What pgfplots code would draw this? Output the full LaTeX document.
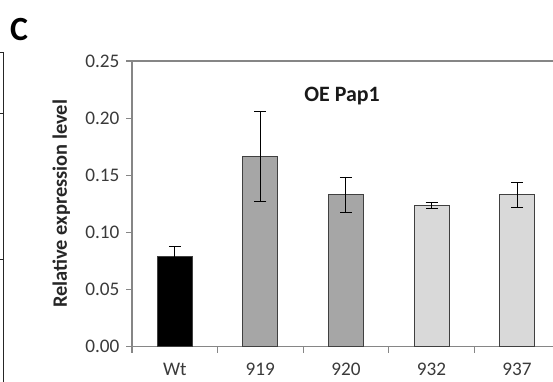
\documentclass[border=0pt]{standalone}
\usepackage{pgfplots}
\pgfplotsset{compat=1.18}
\usepackage{fontspec}
\setmainfont{Carlito}
\definecolor{axgray}{HTML}{868686}
\definecolor{txtgray}{HTML}{3A3A3A}
\definecolor{edgegray}{HTML}{404040}
\definecolor{midgray}{HTML}{A6A6A6}
\definecolor{lightgray}{HTML}{D9D9D9}
\begin{document}
\begin{tikzpicture}[x=1bp,y=1bp]
\path[use as bounding box] (0,0) rectangle (553,381);
% edge of neighbouring panel
\draw[black!85, line width=1pt] (0,329) -- (3,329) -- (3,-1);
\draw[black!85, line width=1pt] (0,268) -- (3,268);
\draw[black!85, line width=1pt] (0,122) -- (3,122);
\node[font=\bfseries\fontsize{34}{34}\selectfont, anchor=base west, inner sep=0pt] at (10,341) {C};
\begin{axis}[
  at={(132bp,34.3bp)}, anchor=south west,
  scale only axis, width=421bp, height=285.7bp,
  xmin=-0.5, xmax=4.42, ymin=0, ymax=0.25,
  axis x line*=box, axis y line*=left,
  xtick pos=bottom, ytick pos=left,
  axis line style={axgray, line width=1.2pt},
  tick align=outside,
  ytick={0,0.05,0.10,0.15,0.20,0.25},
  /pgf/number format/fixed, /pgf/number format/fixed zerofill,
  /pgf/number format/precision=2, /pgf/number format/assume math mode=true,
  xtick={0,1,2,3,4}, xticklabels={Wt,919,920,932,937},
  major x tick style={draw=none},
  minor xtick={-0.5,0.5,1.5,2.5,3.5},
  minor tick length=6bp, major tick length=6bp,
  y tick style={axgray, line width=1.2pt},
  minor x tick style={axgray, line width=1.2pt},
  ticklabel style={font=\fontsize{19.3}{19.3}\selectfont, text=txtgray},
  xticklabel style={yshift=-7bp},
  yticklabel style={xshift=-3bp},
  ylabel={Relative expression level},
  ylabel style={font=\bfseries\fontsize{20.5}{20.5}\selectfont, text=black!85, at={(axis description cs:-0.168,0.5)}, anchor=center},
  ybar, bar width=35bp, bar shift=0pt,
  every axis plot/.append style={draw=edgegray, line width=0.9pt},
  error bars/y dir=both, error bars/y explicit,
  error bars/error bar style={black, line width=0.9pt},
  error bars/error mark options={black, line width=0.9pt, mark size=6bp, rotate=90},
]
\addplot[fill=black] coordinates {(0,0.0794) +- (0,0.008)};
\addplot[fill=midgray] coordinates {(1,0.1665) +- (0,0.039)};
\addplot[fill=midgray] coordinates {(2,0.1330) +- (0,0.0155)};
\addplot[fill=lightgray] coordinates {(3,0.1233) +- (0,0.0026)};
\addplot[fill=lightgray] coordinates {(4,0.1330) +- (0,0.011)};
\end{axis}
\node[font=\bfseries\fontsize{22}{22}\selectfont, text=black!90] at (342,285) {OE Pap1};
\end{tikzpicture}
\end{document}
